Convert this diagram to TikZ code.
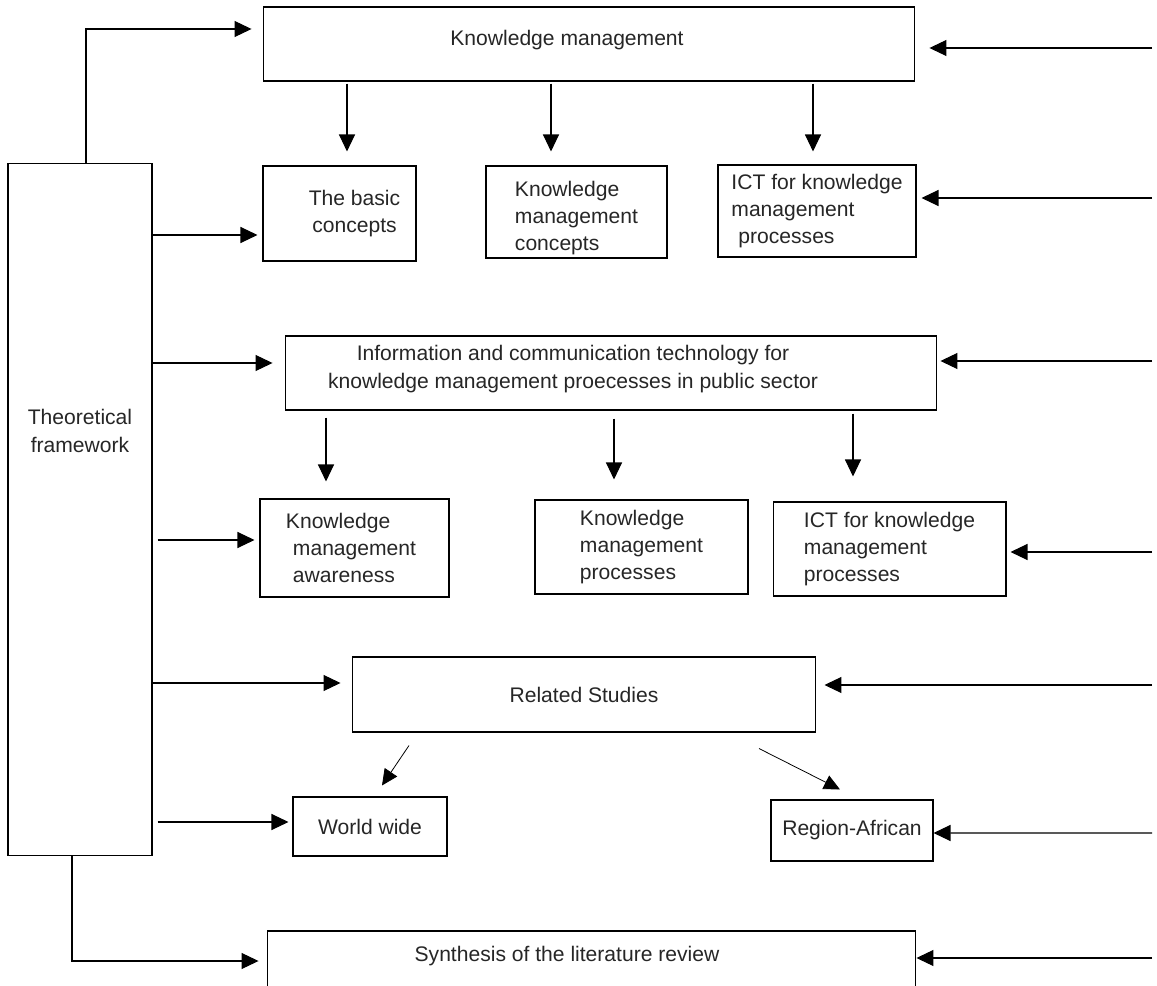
\documentclass[tikz,border=0pt]{standalone}
\usepackage{fontspec}
\setmainfont{Liberation Sans}
\usetikzlibrary{arrows.meta, calc}

\tikzset{
  box/.style={rectangle, draw, line width=0.6pt, text=black!85},
  arr/.style={-{Triangle[length=0.34cm, width=0.32cm]}, line width=0.6pt},
  diag/.style={-{Triangle[length=0.32cm, width=0.3cm]}, line width=0.45pt},
}

\begin{document}
\begin{tikzpicture}[x=0.02cm, y=-0.02cm, font=\fontsize{12}{15.5}\selectfont]
  \useasboundingbox (0,0) rectangle (1157,986);
  \clip (0,0) rectangle (1157,986);
  % Nodes
  \node (tf) [box, minimum width=2.88cm, minimum height=13.86cm, label={[align=center, yshift=1.57cm, text=black!85]center:Theoretical\\framework}] at (80,509.5) {};
  \node (km) [box, minimum width=13.04cm, minimum height=1.48cm, label={[xshift=-0.44cm, yshift=0.08cm, text=black!85]center:Knowledge management}] at (589,44) {};
  \node (basic) [box, minimum width=3.06cm, minimum height=1.9cm, label={[align=center, xshift=0.3cm, text=black!85]center:The basic\\concepts}] at (339.5,213.5) {};
  \node (kmc) [box, align=left, minimum width=3.62cm, minimum height=1.84cm, label={[align=left, yshift=-0.12cm, text=black!85]center:Knowledge\\management\\concepts}] at (576.5,212) {};
  \node (ict1) [box, align=left, minimum width=3.96cm, minimum height=1.84cm] at (817,211) {ICT for knowledge\\management\\\hspace*{0.14cm}processes};
  \node (ictp) [box, minimum width=13.04cm, minimum height=1.48cm, label={[align=center, xshift=-0.76cm, yshift=0.08cm, text=black!85]center:Information and communication technology for\\knowledge management proecesses in public sector}] at (611,373) {};
  \node (kma) [box, align=left, minimum width=3.78cm, minimum height=1.96cm] at (354.5,548) {\hspace*{-0.14cm}Knowledge\\management\\awareness};
  \node (kmp) [box, align=left, minimum width=4.26cm, minimum height=1.88cm] at (641.5,547) {Knowledge\\management\\processes};
  \node (ict2) [box, align=left, minimum width=4.66cm, minimum height=1.88cm] at (889.5,549) {ICT for knowledge\\management\\processes};
  \node (rs) [box, minimum width=9.28cm, minimum height=1.5cm] at (584,694.5) {Related Studies};
  \node (ww) [box, minimum width=3.08cm, minimum height=1.18cm] at (370,826.5) {World wide};
  \node (ra) [box, minimum width=3.24cm, minimum height=1.22cm] at (852,830.5) {Region-African};
  \node (syn) [box, minimum width=12.98cm, minimum height=1.4cm, label={[xshift=-0.49cm, yshift=0.2cm, text=black!85]center:Synthesis of the literature review}] at (591.5,966) {};
  % Inputs from the right
  \coordinate (kmin) at (1152,48);
  \coordinate (ict1in) at (1152,198);
  \coordinate (ictpin) at (1152,361);
  \coordinate (ict2in) at (1152,552);
  \coordinate (rsin) at (1152,685);
  \coordinate (rain) at (1152,833);
  \coordinate (synin) at (1152,958);
  % Arrows from the framework
  \draw[arr] ($(tf.north)+(6,0)$) |- ($(km.west)+(-11,-15)$);
  \draw[arr] ($(tf.east |- basic.west)+(0,21.5)$) -- ($(basic.west)+(-5,21.5)$);
  \draw[arr] ($(tf.east |- ictp.west)+(0,-10)$) -- ($(ictp.west)+(-12,-10)$);
  \draw[arr] ($(tf.east |- kma.west)+(5,-8)$) -- ($(kma.west)+(-5,-8)$);
  \draw[arr] ($(tf.east |- rs.west)+(0,-11.5)$) -- ($(rs.west)+(-11,-11.5)$);
  \draw[arr] ($(tf.east |- ww.west)+(5,-4.5)$) -- ($(ww.west)+(-4,-4.5)$);
  \draw[arr] ($(tf.south)+(-8,0)$) |- ($(syn.west)+(-8,-5)$);
  % Arrows down
  \draw[arr] ($(basic.north |- km.south)+(7.5,2)$) -- ($(basic.north)+(7.5,-14)$);
  \draw[arr] ($(kmc.north |- km.south)+(-25.5,2)$) -- ($(kmc.north)+(-25.5,-14)$);
  \draw[arr] ($(ict1.north |- km.south)+(-4,2)$) -- ($(ict1.north)+(-4,-13)$);
  \draw[arr] ($(kma.north |- ictp.south)+(-28.5,7)$) -- ($(kma.north)+(-28.5,-17)$);
  \draw[arr] ($(kmp.north |- ictp.south)+(-27.5,8)$) -- ($(kmp.north)+(-27.5,-20)$);
  \draw[arr] ($(ict2.north |- ictp.south)+(-36.5,3)$) -- ($(ict2.north)+(-36.5,-25)$);
  \draw[diag] ($(rs.south)+(-175,13)$) -- ($(ww.north)+(12,-11)$);
  \draw[diag] ($(rs.south)+(175,16)$) -- ($(ra.north)+(-12,-10)$);
  % Arrows from the right
  \draw[arr] (kmin) -- ($(km.east)+(14,4)$);
  \draw[arr] (ict1in) -- ($(ict1.east)+(5,-13)$);
  \draw[arr] (ictpin) -- ($(ictp.east)+(3,-12)$);
  \draw[arr] (ict2in) -- ($(ict2.east)+(4,3)$);
  \draw[arr] (rsin) -- ($(rs.east)+(8,-9.5)$);
  \draw[arr] (rain) -- ($(ra.east)+(0,2.5)$);
  \draw[arr] (synin) -- ($(syn.east)+(0,-8)$);
\end{tikzpicture}
\end{document}
